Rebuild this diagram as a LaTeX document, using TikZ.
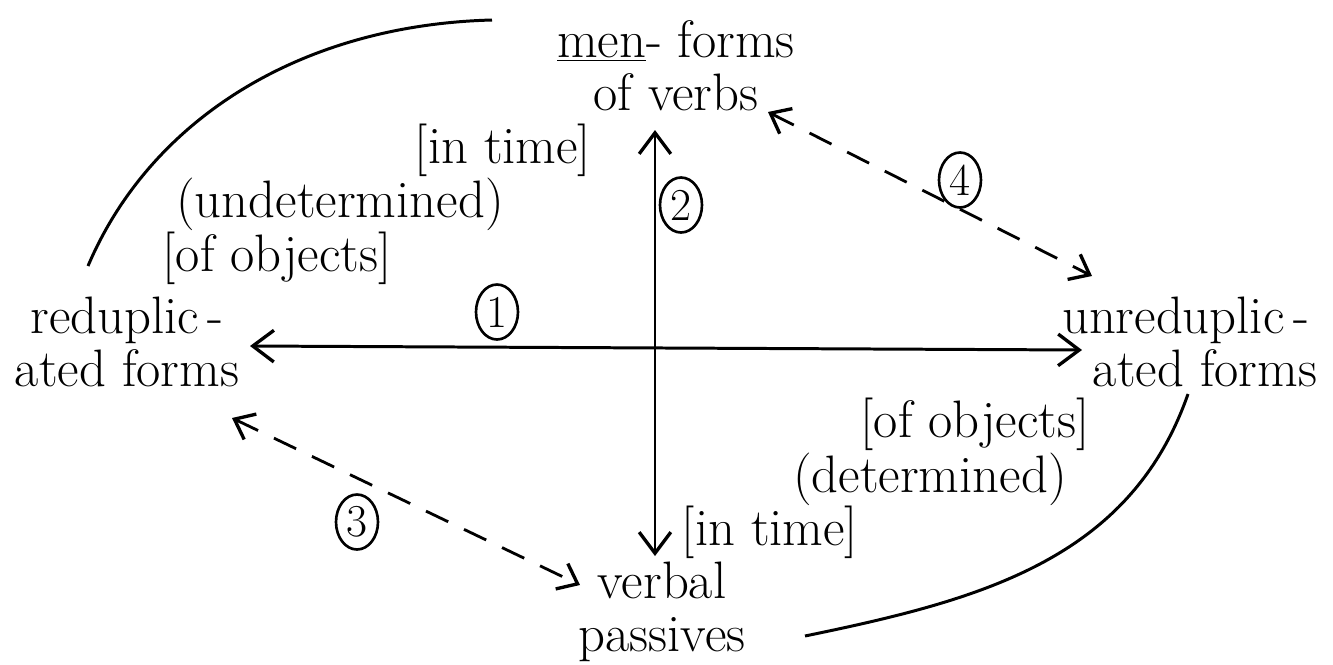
\documentclass[tikz,border=0pt]{standalone}
\usetikzlibrary{arrows.meta,shapes.geometric}
\begin{document}
\begin{tikzpicture}[x=0.02cm,y=-0.02cm,
  lbl/.style={font=\fontsize{30}{30}\selectfont, inner sep=0pt, align=center},
  num/.style={draw, ellipse, line width=1.5pt, inner sep=0pt, minimum width=0.84cm, minimum height=1.1cm, font=\fontsize{26}{26}\selectfont},
  solidarrow/.style={line width=1.7pt, {Straight Barb[length=12pt,width=18pt,line width=1.9pt]}-{Straight Barb[length=12pt,width=18pt,line width=1.9pt]}},
  dasharrow/.style={line width=1.6pt, dash pattern=on 14pt off 10pt, {Straight Barb[length=10pt,width=16pt,line width=1.9pt]}-{Straight Barb[length=10pt,width=16pt,line width=1.9pt]}},
  bow/.style={line width=1.7pt}]
\useasboundingbox (0,0) rectangle (1333,664);
% main labels
\node[lbl] (men) at (676,66) {\underline{men}- forms\\ of verbs};
\node[lbl] (red) at (127,342) {reduplic\,-\\ ated forms};
\node[lbl] (unred) at (1205,342) {\hspace*{-22pt}unreduplic\,-\\ ated forms};
\node[lbl] (verb) at (662,612) {verbal\\ passives};
% axis anchors
\coordinate (top) at (655,130);
\coordinate (bot) at (655,556);
\coordinate (lft) at (250,346);
\coordinate (rgt) at (1082,350);
\draw[solidarrow] (bot) -- (top);
\draw[solidarrow] (lft) -- (rgt);
% dashed arrows
\coordinate (d3a) at (232,418);
\coordinate (d3b) at (580,585);
\coordinate (d4a) at (768,112);
\coordinate (d4b) at (1092,276);
\draw[dasharrow] (d3a) -- (d3b);
\draw[dasharrow] (d4a) -- (d4b);
% circled numbers
\node[num] (n1) at (497,312) {1};
\node[num] (n2) at (681,205) {2};
\node[num] (n3) at (357,522) {3};
\node[num] (n4) at (960,180) {4};
% side labels
\node[lbl] (t1) at (503,150) {[in time]};
\node[lbl] (u1) at (340,204) {(undetermined)};
\node[lbl] (o1) at (277,258) {[of objects]};
\node[lbl] (o2) at (975,424) {[of objects]};
\node[lbl] (d2) at (930,479) {(determined)};
\node[lbl] (t2) at (770,532) {[in time]};
% curves
\coordinate (c1a) at (88,266);
\coordinate (c1b) at (492,20);
\draw[bow] (c1a) .. controls (150,120) and (300,25) .. (c1b);
\coordinate (c2a) at (805,636);
\coordinate (c2b) at (1188,394);
\draw[bow] (c2a) .. controls (980,600) and (1130,560) .. (c2b);
\end{tikzpicture}
\end{document}
